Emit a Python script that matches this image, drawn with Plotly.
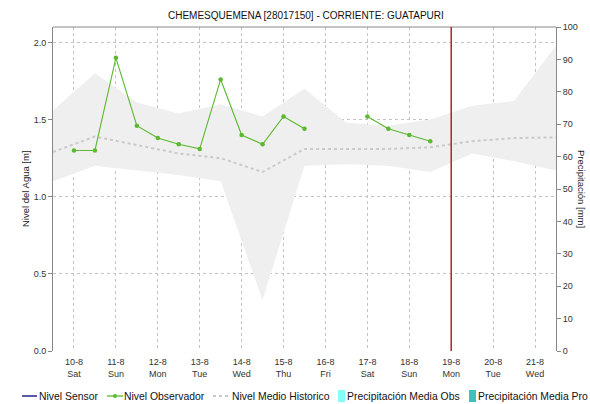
import plotly.graph_objects as go

# ---- data -------------------------------------------------------------
# historical daily statistics (noon of each day)
hist_dates = [f"2019-08-{d:02d} 12:00" for d in range(9, 22)]
hist_upper = [1.56, 1.80, 1.61, 1.54, 1.60, 1.52, 1.70, 1.48, 1.46, 1.50, 1.59, 1.62, 1.98]
hist_mean = [1.29, 1.39, 1.335, 1.28, 1.25, 1.16, 1.31, 1.31, 1.31, 1.32, 1.36, 1.38, 1.385]
hist_lower = [1.10, 1.20, 1.17, 1.14, 1.10, 0.33, 1.20, 1.21, 1.20, 1.16, 1.28, 1.23, 1.17]

# observer readings, twice a day (None = no reading)
obs_dates = [f"2019-08-{d:02d} {h}" for d in range(10, 19) for h in ("00:00", "12:00")]
obs_level = [1.30, 1.30, 1.90, 1.46, 1.38, 1.34, 1.31, 1.76, 1.40, 1.34,
             1.52, 1.44, None, None, 1.52, 1.44, 1.40, 1.36]

tick_dates = [f"2019-08-{d:02d}" for d in range(10, 22)]
tick_days = ["10-8", "11-8", "12-8", "13-8", "14-8", "15-8", "16-8", "17-8",
             "18-8", "19-8", "20-8", "21-8"]
tick_weekdays = ["Sat", "Sun", "Mon", "Tue", "Wed", "Thu", "Fri", "Sat",
                 "Sun", "Mon", "Tue", "Wed"]
current_date = "2019-08-19"

title_text = "CHEMESQUEMENA [28017150] - CORRIENTE: GUATAPURI"

# ---- layout geometry ---------------------------------------------------
W, H = 590, 404
L, R, T, B = 53, 34, 27, 53
PW, PH = W - L - R, H - T - B
FONT = "Liberation Sans, Arial, sans-serif"


def fx(px):
    return (px - L) / PW


def fy(py):
    return (H - B - py) / PH


fig = go.Figure()

# historical band
fig.add_trace(go.Scatter(x=hist_dates, y=hist_lower, mode="lines",
                         line=dict(width=0, color="rgba(0,0,0,0)"),
                         hoverinfo="skip", showlegend=False))
fig.add_trace(go.Scatter(x=hist_dates, y=hist_upper, mode="lines",
                         line=dict(width=0, color="rgba(0,0,0,0)"),
                         fill="tonexty", fillcolor="#efefef",
                         hoverinfo="skip", showlegend=False))
# historical mean
fig.add_trace(go.Scatter(x=hist_dates, y=hist_mean, mode="lines",
                         line=dict(width=2, color="#cacaca", dash="3px,3px"),
                         name="Nivel Medio Historico", showlegend=False))
# observer level
fig.add_trace(go.Scatter(x=obs_dates, y=obs_level, mode="lines+markers",
                         line=dict(width=1.1, color="#5cb82e"),
                         marker=dict(size=4.5, color="#5cb82e"),
                         connectgaps=False,
                         name="Nivel Observador", showlegend=False))
# empty precipitation axis
fig.add_trace(go.Bar(x=[], y=[], yaxis="y2", showlegend=False))

fig.update_layout(
    width=W, height=H,
    margin=dict(l=L, r=R, t=T, b=B),
    paper_bgcolor="white", plot_bgcolor="white",
    font=dict(family=FONT, size=9, color="#333333"),
    showlegend=False,
    xaxis=dict(
        type="date",
        range=["2019-08-09 12:00", "2019-08-21 12:00"],
        tickmode="array",
        tickvals=tick_dates,
        ticktext=[f"{d}<br>{w}" for d, w in zip(tick_days, tick_weekdays)],
        tickfont=dict(size=9, color="#333333"),
        ticklabelstandoff=4,
        showgrid=True, gridcolor="#c4c4c4", griddash="dot", gridwidth=1,
        showline=False, zeroline=False, ticks="",
    ),
    yaxis=dict(
        range=[0, 2.1], tickvals=[0, 0.5, 1.0, 1.5, 2.0],
        ticktext=["0.0", "0.5", "1.0", "1.5", "2.0"],
        tickfont=dict(size=9, color="#333333"),
        showgrid=True, gridcolor="#c4c4c4", griddash="dot", gridwidth=1,
        showline=True, linecolor="#888888", linewidth=1,
        ticks="outside", ticklen=4, tickcolor="#888888",
        zeroline=False,
    ),
    yaxis2=dict(
        overlaying="y", side="right", range=[0, 100], dtick=10,
        tickfont=dict(size=9, color="#333333"),
        showgrid=False, zeroline=False,
        showline=True, linecolor="#888888", linewidth=1,
        ticks="outside", ticklen=4, tickcolor="#888888",
    ),
)

shapes = [
    # frame top edge
    dict(type="line", xref="paper", yref="paper", x0=0, x1=1, y0=1, y1=1,
         line=dict(color="#888888", width=1)),
    # current date marker
    dict(type="line", xref="x", yref="paper", x0=current_date, x1=current_date,
         y0=0, y1=1, line=dict(color="#b0202c", width=1.5)),
]

annotations = [
    dict(text=title_text, xref="paper", yref="paper", x=fx(306), y=fy(15),
         xanchor="center", yanchor="middle", showarrow=False,
         font=dict(size=10, color="#111111")),
    dict(text="Nivel del Agua [m]", xref="paper", yref="paper",
         x=fx(25), y=fy(189), textangle=-90, xanchor="center",
         yanchor="middle", showarrow=False,
         font=dict(size=9.5, color="#222222", family="Liberation Sans, Arial")),
    dict(text="Precipitación [mm]", xref="paper", yref="paper",
         x=fx(582), y=fy(189), textangle=90, xanchor="center",
         yanchor="middle", showarrow=False,
         font=dict(size=9.5, color="#222222", family="Liberation Sans, Arial")),
]

# legend row
LY = 396
legend_items = [
    ("line", 22, 37, "#000080", "Nivel Sensor", 39),
    ("marker", 107, 123, "#5cb82e", "Nivel Observador", 124),
    ("dots", 213, 228, "#c8c8c8", "Nivel Medio Historico", 232),
    ("box", 338, 345, "#80ffff", "Precipitación Media Obs", 347),
    ("box", 469, 476, "#40c0c0", "Precipitación Media Pro", 478),
]
for kind, x0, x1, col, label, tx in legend_items:
    if kind in ("line", "marker"):
        shapes.append(dict(type="line", xref="paper", yref="paper",
                           x0=fx(x0), x1=fx(x1), y0=fy(LY), y1=fy(LY),
                           line=dict(color=col, width=1.3)))
        if kind == "marker":
            cx = (x0 + x1) / 2
            shapes.append(dict(type="circle", xref="paper", yref="paper",
                               x0=fx(cx - 2), x1=fx(cx + 2),
                               y0=fy(LY + 2), y1=fy(LY - 2),
                               fillcolor=col, line=dict(width=0)))
    elif kind == "dots":
        shapes.append(dict(type="line", xref="paper", yref="paper",
                           x0=fx(x0), x1=fx(x1), y0=fy(LY), y1=fy(LY),
                           line=dict(color=col, width=2, dash="3px,3px")))
    else:
        shapes.append(dict(type="rect", xref="paper", yref="paper",
                           x0=fx(x0), x1=fx(x1), y0=fy(LY + 6), y1=fy(LY - 6),
                           fillcolor=col, line=dict(width=0)))
    # annotation box adds ~2px of padding before the text
    annotations.append(dict(text=label, xref="paper", yref="paper",
                            x=fx(tx - 2), y=fy(LY), xanchor="left",
                            yanchor="middle", showarrow=False,
                            font=dict(size=10.4, color="#111111")))

fig.update_layout(shapes=shapes, annotations=annotations)

fig.write_html("out.html")
